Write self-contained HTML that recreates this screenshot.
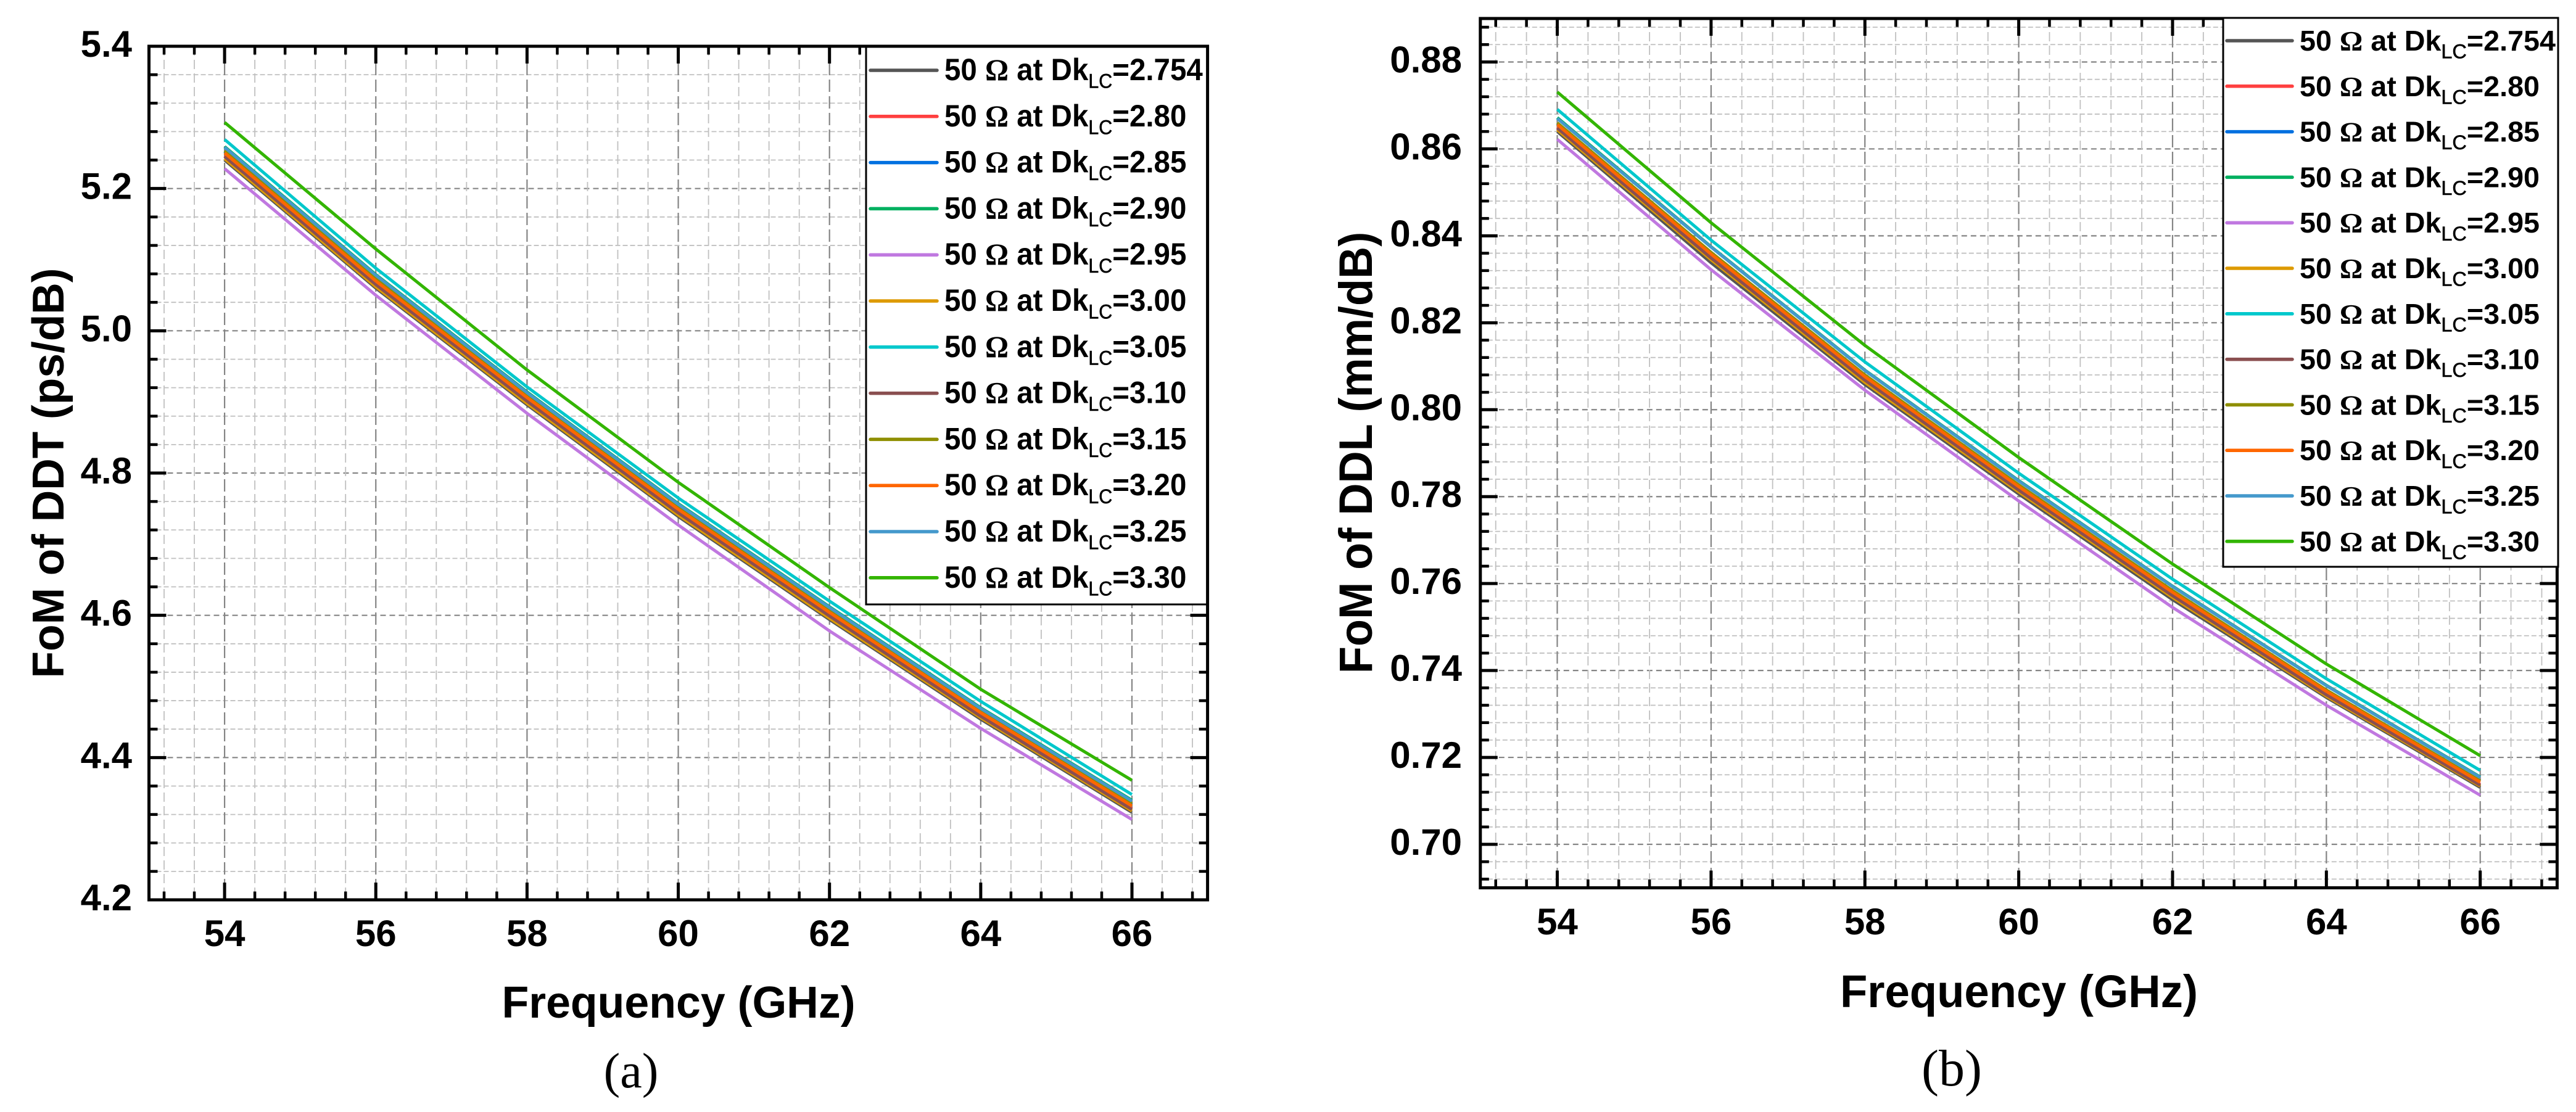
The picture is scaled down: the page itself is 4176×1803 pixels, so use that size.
<!DOCTYPE html>
<html lang="en">
<head>
<meta charset="utf-8">
<title>FoM of DDT and DDL versus Frequency</title>
<style>
html,body{margin:0;padding:0;background:#fff;width:4176px;height:1803px;overflow:hidden}
svg{display:block}
text{font-family:"Liberation Sans",sans-serif;fill:#000}
</style>
</head>
<body>
<svg id="figure" xmlns="http://www.w3.org/2000/svg" width="4176" height="1803" viewBox="0 0 4176 1803">
  <rect width="4176" height="1803" fill="#fff"/>
  <g id="chart-a"></g>
  <g id="chart-b"></g>
</svg>
<script>
// ---- shared categories ----
const frequencies = [54, 56, 58, 60, 62, 64, 66];
const dkLabels = ['2.754','2.80','2.85','2.90','2.95','3.00','3.05','3.10','3.15','3.20','3.25','3.30'];
const seriesColors = ['#555555','#ff4040','#0070e0','#00b060','#c078e0','#dd9a00','#00c8cc','#8a4f50','#8f8f00','#ff6600','#4499cc','#33b500'];
const xTickLabels = ['54','56','58','60','62','64','66'];
const yTickLabelsA = ['4.2','4.4','4.6','4.8','5.0','5.2','5.4'];
const yTickLabelsB = ['0.70','0.72','0.74','0.76','0.78','0.80','0.82','0.84','0.86','0.88'];

// ---- chart (a): FoM of DDT (ps/dB) ----
const ddt2754 = [5.240,5.060,4.896,4.739,4.594,4.454,4.323];
const ddt280  = [5.246,5.065,4.902,4.745,4.600,4.459,4.328];
const ddt285  = [5.252,5.072,4.908,4.751,4.606,4.465,4.334];
const ddt290  = [5.259,5.079,4.914,4.757,4.612,4.470,4.340];
const ddt295  = [5.228,5.050,4.884,4.727,4.578,4.441,4.313];
const ddt300  = [5.242,5.062,4.898,4.741,4.596,4.456,4.325];
const ddt305  = [5.269,5.088,4.921,4.765,4.620,4.479,4.348];
const ddt310  = [5.245,5.065,4.901,4.744,4.599,4.458,4.327];
const ddt315  = [5.253,5.073,4.909,4.752,4.607,4.466,4.335];
const ddt320  = [5.250,5.070,4.906,4.749,4.604,4.463,4.332];
const ddt325  = [5.258,5.078,4.913,4.756,4.611,4.469,4.339];
const ddt330  = [5.293,5.115,4.945,4.787,4.639,4.496,4.368];

// ---- chart (b): FoM of DDL (mm/dB) ----
const ddl2754 = [0.8640,0.8338,0.8058,0.7806,0.7563,0.7338,0.7131];
const ddl280  = [0.8650,0.8352,0.8070,0.7817,0.7574,0.7346,0.7138];
const ddl285  = [0.8658,0.8360,0.8078,0.7825,0.7582,0.7354,0.7145];
const ddl290  = [0.8672,0.8375,0.8091,0.7837,0.7594,0.7366,0.7155];
const ddl295  = [0.8622,0.8322,0.8045,0.7790,0.7545,0.7320,0.7113];
const ddl300  = [0.8644,0.8345,0.8063,0.7811,0.7568,0.7341,0.7134];
const ddl305  = [0.8691,0.8390,0.8110,0.7854,0.7610,0.7381,0.7170];
const ddl310  = [0.8648,0.8349,0.8068,0.7815,0.7572,0.7344,0.7136];
const ddl315  = [0.8660,0.8362,0.8080,0.7827,0.7584,0.7355,0.7146];
const ddl320  = [0.8656,0.8358,0.8076,0.7823,0.7580,0.7352,0.7143];
const ddl325  = [0.8670,0.8374,0.8090,0.7836,0.7593,0.7365,0.7154];
const ddl330  = [0.8731,0.8430,0.8148,0.7890,0.7645,0.7415,0.7204];

const ddtSeries = [ddt2754,ddt280,ddt285,ddt290,ddt295,ddt300,ddt305,ddt310,ddt315,ddt320,ddt325,ddt330];
const ddlSeries = [ddl2754,ddl280,ddl285,ddl290,ddl295,ddl300,ddl305,ddl310,ddl315,ddl320,ddl325,ddl330];

const NS = 'http://www.w3.org/2000/svg';
function mk(tag, attrs, parent) {
  const el = document.createElementNS(NS, tag);
  for (const k in attrs) el.setAttribute(k, attrs[k]);
  parent.appendChild(el);
  return el;
}

function drawChart(root, cfg, series, yLabels) {
  const xScale = f => cfg.left + (f - cfg.xMin) / (cfg.xMax - cfg.xMin) * (cfg.right - cfg.left);
  const yScale = v => cfg.bottom - (v - cfg.yMin) / (cfg.yMax - cfg.yMin) * (cfg.bottom - cfg.top);

  const isXMajor = f => frequencies.some(m => Math.abs(m - f) < 1e-6);
  const yMajors = yLabels.map(Number);
  const isYMajor = v => yMajors.some(m => Math.abs(m - v) < 1e-6);
  const yVals = [];
  const n = Math.round((cfg.yFirstMinorTop - cfg.yFirstMinorBottom) / cfg.yMinor);
  for (let i = 0; i <= n; i++) yVals.push(cfg.yFirstMinorBottom + i * cfg.yMinor);
  const xVals = [];
  for (let i = 0; i < 35; i++) xVals.push(Math.round((53.2 + i * 0.4) * 10) / 10);

  // grid
  const grid = mk('g', {}, root);
  
  
  yVals.forEach(v => {
    const maj = isYMajor(v);
    const l = mk('line', {x1: cfg.left, x2: cfg.right, y1: yScale(v), y2: yScale(v),
      stroke: maj ? '#858585' : '#c0c0c0', 'stroke-width': maj ? 2.2 : 1.8, 'stroke-dasharray': maj ? '9 6' : '8 4'}, grid);
    
    
  });
  xVals.forEach(f => {
    const maj = isXMajor(f);
    const l = mk('line', {x1: xScale(f), x2: xScale(f), y1: cfg.top, y2: cfg.bottom,
      stroke: maj ? '#858585' : '#c0c0c0', 'stroke-width': maj ? 2.2 : 1.8, 'stroke-dasharray': maj ? '20 7' : '15 7'}, grid);
    
    
  });

  // series
  const lines = mk('g', {fill: 'none', 'stroke-linejoin': 'round'}, root);
  
  
  series.forEach((vals, i) => {
    const pts = vals.map((v, j) => xScale(frequencies[j]).toFixed(1) + ',' + yScale(v).toFixed(1)).join(' ');
    const p = mk('polyline', {points: pts, stroke: seriesColors[i], 'stroke-width': 5}, lines);
    
    
  });

  // ticks
  const ticks = mk('g', {stroke: '#000'}, root);
  
  
  xVals.forEach(f => {
    const maj = isXMajor(f);
    const len = maj ? 28 : 13.5;
    [[cfg.bottom, cfg.bottom - len], [cfg.top, cfg.top + len]].forEach(e => {
      const t = mk('line', {x1: xScale(f), x2: xScale(f), y1: e[0], y2: e[1], 'stroke-width': maj ? 5 : 4.5}, ticks);
      
      
    });
  });
  yVals.forEach(v => {
    const maj = isYMajor(v);
    const len = maj ? 28 : 14;
    [[cfg.left, cfg.left + len], [cfg.right, cfg.right - len]].forEach(e => {
      const t = mk('line', {x1: e[0], x2: e[1], y1: yScale(v), y2: yScale(v), 'stroke-width': maj ? 5 : 4.6}, ticks);
      
      
    });
  });

  function drawFrame() {
    const fr = mk('rect', {x: cfg.left, y: cfg.top, width: cfg.right - cfg.left, height: cfg.bottom - cfg.top,
      fill: 'none', stroke: '#000', 'stroke-width': 5}, root);
    
    
  }
  function drawLegend() {
    const lg = mk('g', {}, root);
    
    
    const box = mk('rect', {x: cfg.lgX, y: cfg.lgY, width: cfg.lgW, height: cfg.lgH, fill: '#fff', stroke: '#000', 'stroke-width': 3}, lg);
    
    
    dkLabels.forEach((d, i) => {
      const cy = cfg.lgRow0 + i * cfg.lgStep;
      const entry = mk('g', {}, lg);
      
      
      const sw = mk('line', {x1: cfg.lgLine0, x2: cfg.lgLine1, y1: cy, y2: cy, stroke: seriesColors[i], 'stroke-width': 5.5, 'stroke-linecap': 'round'}, entry);
      
      
      const tx = mk('text', {transform: 'translate(' + cfg.lgText + ',' + (cy + 16) + ') scale(' + cfg.lgSx + ',1)', 'font-size': cfg.lgFont, 'font-weight': 700}, entry);
      
      
      tx.appendChild(document.createTextNode('50 '));
      const om = mk('tspan', {'font-family': '"Liberation Serif",serif'}, tx);
      om.textContent = 'Ω';
      tx.appendChild(document.createTextNode(' at Dk'));
      const sub = mk('tspan', {dy: 12.6, 'font-size': 32, 'font-weight': 400, stroke: '#000', 'stroke-width': 0.6}, tx);
      sub.textContent = 'LC';
      const rest = mk('tspan', {dy: -12.6}, tx);
      rest.textContent = '=' + d;
    });
  }
  if (cfg.legendOverFrame) { drawFrame(); drawLegend(); } else { drawLegend(); drawFrame(); }

  // tick labels
  xTickLabels.forEach(s => {
    const t = mk('text', {x: xScale(Number(s)), y: cfg.xLabelY, 'font-size': 60, 'font-weight': 700, 'text-anchor': 'middle'}, root);
    t.textContent = s;
    
    
  });
  yLabels.forEach(s => {
    const t = mk('text', {x: cfg.yLabelX, y: yScale(Number(s)) + 17, 'font-size': 60, 'font-weight': 700, 'text-anchor': 'end'}, root);
    t.textContent = s;
    
    
  });

  // titles
  const xt = mk('text', {transform: 'translate(' + cfg.xTitleX + ',' + cfg.xTitleY + ') scale(' + cfg.xTitleSx + ',1)', 'font-size': cfg.xTitleFont, 'font-weight': 700, 'text-anchor': 'middle'}, root);
  xt.textContent = 'Frequency (GHz)';
  
  
  const yt = mk('text', {transform: 'translate(' + cfg.yTitleX + ',' + cfg.yTitleY + ') rotate(-90) scale(' + cfg.yTitleSx + ',1)', 'font-size': cfg.yTitleFont, 'font-weight': 700, 'text-anchor': 'middle'}, root);
  yt.textContent = cfg.yTitle;
  
  
  const cap = mk('text', {x: cfg.capX, y: cfg.capY, 'font-size': cfg.capFont, 'text-anchor': 'middle', style: 'font-family:"Liberation Serif",serif'}, root);
  cap.textContent = cfg.caption;
  
  
}

drawChart(document.getElementById('chart-a'), {
  left: 241.5, right: 1957.6, top: 75, bottom: 1459,
  xMin: 53, xMax: 67, yMin: 4.2, yMax: 5.4, yMinor: 0.04, yFirstMinorBottom: 4.24, yFirstMinorTop: 5.36,
  lgX: 1404, lgY: 75, lgW: 553.6, lgH: 905, lgRow0: 114, lgStep: 74.8, lgLine0: 1411, lgLine1: 1519, lgText: 1531,
  lgFont: 50, lgSx: 0.95, legendOverFrame: false,
  xLabelY: 1534, yLabelX: 214,
  xTitleX: 1100, xTitleY: 1650, xTitleFont: 72, xTitleSx: 0.995,
  yTitleX: 103, yTitleY: 767, yTitleFont: 72, yTitleSx: 0.99, yTitle: 'FoM of DDT (ps/dB)',
  capX: 1023, capY: 1763, capFont: 80, caption: '(a)'
}, ddtSeries, yTickLabelsA);

drawChart(document.getElementById('chart-b'), {
  left: 2399.8, right: 4145.4, top: 30, bottom: 1439.5,
  xMin: 53, xMax: 67, yMin: 0.69, yMax: 0.89, yMinor: 0.004, yFirstMinorBottom: 0.692, yFirstMinorTop: 0.888,
  lgX: 3604, lgY: 29, lgW: 543, lgH: 890, lgRow0: 66, lgStep: 73.8, lgLine0: 3610, lgLine1: 3716, lgText: 3728,
  lgFont: 46, lgSx: 1.015, legendOverFrame: true,
  xLabelY: 1515, yLabelX: 2370,
  xTitleX: 3273, xTitleY: 1633, xTitleFont: 74, xTitleSx: 0.98,
  yTitleX: 2224, yTitleY: 734, yTitleFont: 76, yTitleSx: 0.95, yTitle: 'FoM of DDL (mm/dB)',
  capX: 3164, capY: 1760, capFont: 84, caption: '(b)'
}, ddlSeries, yTickLabelsB);
</script>
</body>
</html>
